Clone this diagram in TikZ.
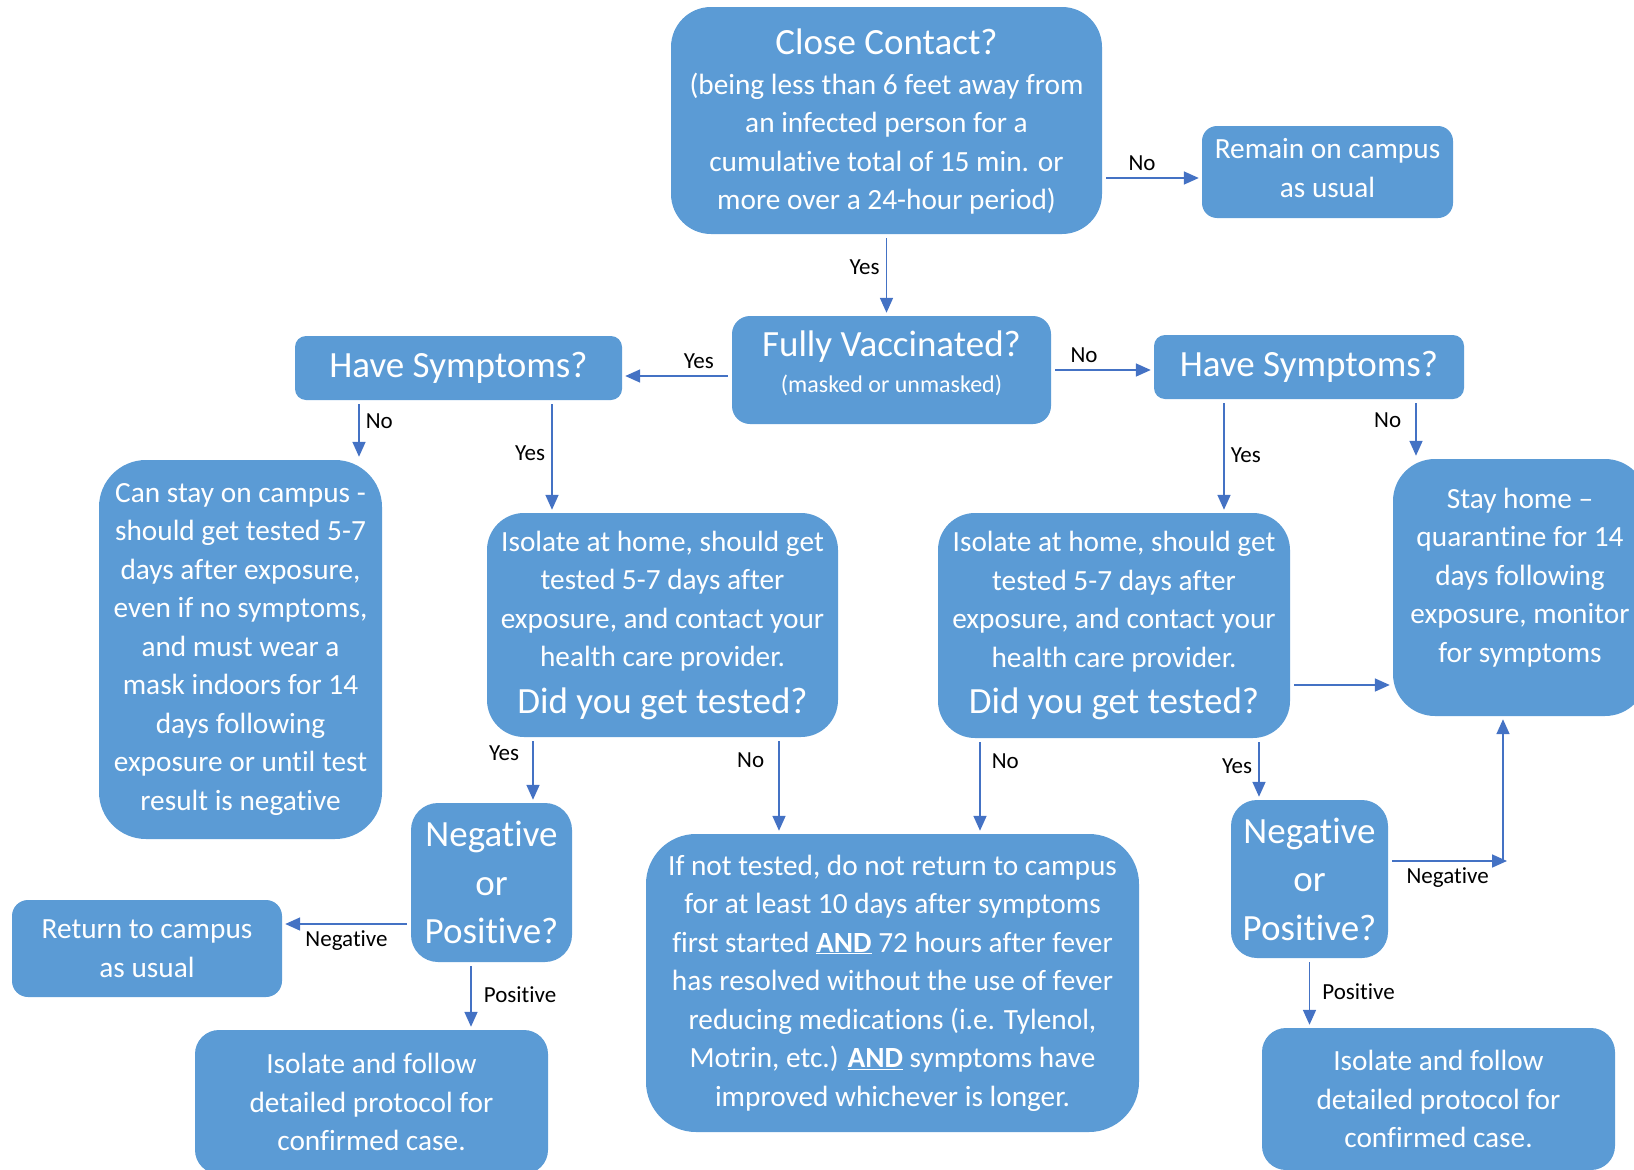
\documentclass[tikz,border=0pt]{standalone}
\usepackage{fontspec}
\setmainfont{Carlito}[Ligatures={TeX,NoCommon}]
\usetikzlibrary{arrows.meta}
\definecolor{boxblue}{HTML}{5B9BD5}
\definecolor{lineblue}{HTML}{4472C4}
\newcommand{\headfont}{\fontsize{37}{48.5}\selectfont}

\begin{document}
\begin{tikzpicture}[x=1pt, y=-1pt,
    box/.style={fill=boxblue, text=white, align=center, inner sep=0pt, font=\fontsize{29.3}{38.5}\selectfont},
    arr/.style={draw=lineblue, line width=1.7pt, shorten <=4pt, shorten >=3pt, -{Triangle[length=15pt, width=13pt]}},
    lbl/.style={font=\fontsize{23}{27}\selectfont, text=black, inner sep=6pt}]
    \useasboundingbox (0,0) rectangle (1634,1170);
    \clip (0,0) rectangle (1634,1170);

    \node[box, minimum width=431pt, minimum height=227pt, rounded corners=40pt] (close) at (886.5,120.5)
        {{\headfont Close Contact?}\\[1.5pt](being less than 6 feet away from\\an infected person for a\\cumulative total of 15 min. or\\more over a 24-hour period)\\[-36pt]\mbox{}};
    \node[box, minimum width=251pt, minimum height=92pt, rounded corners=15pt] (remain) at (1327.5,172)
        {Remain on campus\\as usual\\[-30.5pt]\mbox{}};
    \node[box, minimum width=319pt, minimum height=108pt, rounded corners=18pt, font=\fontsize{24}{36}\selectfont] (vacc) at (891.5,370)
        {{\headfont Fully Vaccinated?}\\(masked or unmasked)\\[-20pt]\mbox{}};
    \node[box, minimum width=327pt, minimum height=64pt, rounded corners=11pt, font=\headfont] (symL) at (458.5,368) {Have Symptoms?};
    \node[box, minimum width=310pt, minimum height=64pt, rounded corners=11pt, font=\headfont] (symR) at (1309,367) {Have Symptoms?};
    \node[box, minimum width=283pt, minimum height=379pt, rounded corners=47pt] (stay) at (240.5,649.5)
        {Can stay on campus -\\should get tested 5-7\\days after exposure,\\even if no symptoms,\\and must wear a\\mask indoors for 14\\days following\\exposure or until test\\result is negative};
    \node[box, minimum width=351pt, minimum height=224pt, rounded corners=37pt] (isoL) at (662.5,625)
        {Isolate at home, should get\\tested 5-7 days after\\exposure, and contact your\\health care provider.\\[8pt]{\headfont Did you get tested?}};
    \node[box, minimum width=352pt, minimum height=225pt, rounded corners=37pt] (isoR) at (1114,625.5)
        {Isolate at home, should get\\tested 5-7 days after\\exposure, and contact your\\health care provider.\\[8pt]{\headfont Did you get tested?}};
    \node[box, minimum width=254pt, minimum height=257pt, rounded corners=42pt] (home) at (1520,587.5)
        {Stay home --\\quarantine for 14\\days following\\exposure, monitor\\for symptoms\\[-13.5pt]\mbox{}};
    \node[box, minimum width=161pt, minimum height=159pt, rounded corners=27pt, font=\headfont] (npL) at (491.5,882.5) {Negative\\or\\Positive?};
    \node[box, minimum width=157pt, minimum height=158pt, rounded corners=26pt, font=\headfont] (npR) at (1309.5,879) {Negative\\or\\Positive?};
    \node[box, minimum width=493pt, minimum height=298pt, rounded corners=50pt] (notest) at (892.5,983)
        {If not tested, do not return to campus\\for at least 10 days after symptoms\\first started \underline{\textbf{AND}} 72 hours after fever\\has resolved without the use of fever\\reducing medications (i.e. Tylenol,\\Motrin, etc.) \underline{\textbf{AND}} symptoms have\\improved whichever is longer.};
    \node[box, minimum width=270pt, minimum height=97pt, rounded corners=16pt] (ret) at (147,948.5)
        {Return to campus\\as usual};
    \node[box, minimum width=353pt, minimum height=144pt, rounded corners=24pt] (confL) at (371.5,1102)
        {Isolate and follow\\detailed protocol for\\confirmed case.};
    \node[box, minimum width=353pt, minimum height=142pt, rounded corners=24pt] (confR) at (1438.5,1099)
        {Isolate and follow\\detailed protocol for\\confirmed case.};
    \coordinate (negturn) at (1503,861);

    \draw[arr] (close.south) -- (close.south |- vacc.north) node[lbl, pos=0.4, left] {Yes};
    \draw[arr] ([yshift=-6pt]remain.west -| close.east) -- ([yshift=-6pt]remain.west) node[lbl, pos=0.4, above] {No};
    \draw[arr] ([yshift=-6pt]vacc.west) -- ([yshift=-6pt]vacc.west -| symL.east) node[lbl, pos=0.3, above] {Yes};
    \draw[arr] (vacc.east) -- (vacc.east -| symR.west) node[lbl, pos=0.32, above] {No};
    \draw[arr] ([xshift=-99.5pt]symL.south) -- ([xshift=-99.5pt]symL.south |- stay.north) node[lbl, pos=0.36, right] {No};
    \draw[arr] ([xshift=93.5pt]symL.south) -- ([xshift=93.5pt]symL.south |- isoL.north) node[lbl, pos=0.47, left] {Yes};
    \draw[arr] ([xshift=-85pt]symR.south) -- ([xshift=-85pt]symR.south |- isoR.north) node[lbl, pos=0.49, right] {Yes};
    \draw[arr] ([xshift=107pt]symR.south) -- ([xshift=107pt]symR.south |- home.north) node[lbl, pos=0.36, left, xshift=-8pt] {No};
    \draw[arr] ([xshift=-129.5pt]isoL.south) -- ([xshift=-129.5pt]isoL.south |- npL.north) node[lbl, pos=0.25, left, xshift=-7pt] {Yes};
    \draw[arr] ([xshift=116.5pt]isoL.south) -- ([xshift=116.5pt]isoL.south |- notest.north) node[lbl, pos=0.24, left, xshift=-8pt] {No};
    \draw[arr] ([xshift=-134pt]isoR.south) -- ([xshift=-134pt]isoR.south |- notest.north) node[lbl, pos=0.24, right, xshift=5pt] {No};
    \draw[arr] ([yshift=-59.5pt]isoR.east) -- ([yshift=-59.5pt]isoR.east -| home.west);
    \draw[arr] ([xshift=145pt]isoR.south) -- ([xshift=145pt]isoR.south |- npR.north) node[lbl, pos=0.45, left] {Yes};
    \draw[arr] ([yshift=-41.5pt]npL.west) -- ([yshift=-41.5pt]npL.west -| ret.east) node[lbl, midway, below] {Negative};
    \draw[arr] ([xshift=-20.5pt]npL.south) -- ([xshift=-20.5pt]npL.south |- confL.north) node[lbl, pos=0.48, right, xshift=6pt] {Positive};
    \draw[arr, shorten >=0pt] ([yshift=18pt]npR.east) -- ([xshift=4pt]negturn) node[lbl, midway, below] {Negative};
    \draw[arr, shorten <=0pt] (negturn) -- (negturn |- home.south);
    \draw[arr] (npR.south) -- (npR.south |- confR.north) node[lbl, pos=0.48, right, xshift=6pt] {Positive};
\end{tikzpicture}
\end{document}
